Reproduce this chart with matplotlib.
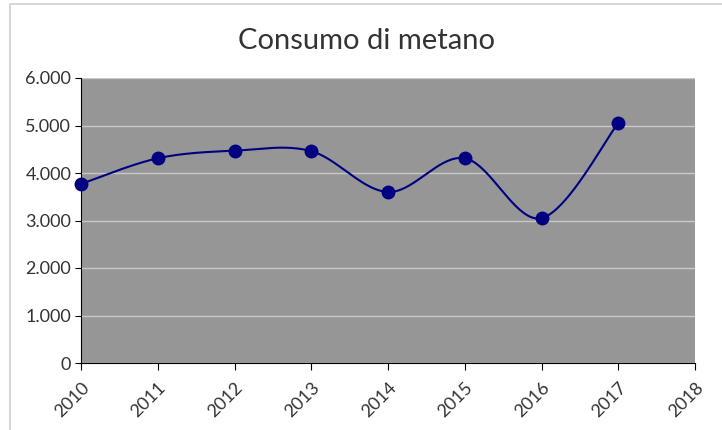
import matplotlib.pyplot as plt
from matplotlib.patches import Rectangle
import numpy as np

anni = [2010, 2011, 2012, 2013, 2014, 2015, 2016, 2017]
consumo = [3770, 4310, 4470, 4460, 3600, 4310, 3050, 5050]
tick_anni = list(range(2010, 2019))
tick_y = [0, 1000, 2000, 3000, 4000, 5000, 6000]


# curva smussata stile Excel (Bezier tipo Catmull-Rom)
def smooth(xs, ys, n=40):
    p = np.column_stack([xs, ys]).astype(float)
    out = [p[0]]
    for i in range(len(p) - 1):
        p0 = p[i - 1] if i > 0 else p[i]
        p1, p2 = p[i], p[i + 1]
        p3 = p[i + 2] if i + 2 < len(p) else p[i + 1]
        c1 = p1 + (p2 - p0) / 6
        c2 = p2 - (p3 - p1) / 6
        t = np.linspace(0, 1, n)[1:, None]
        seg = ((1 - t) ** 3) * p1 + 3 * ((1 - t) ** 2) * t * c1 + 3 * (1 - t) * t ** 2 * c2 + t ** 3 * p2
        out.extend(seg)
    out = np.array(out)
    return out[:, 0], out[:, 1]


def fmt(v):
    return f"{int(v):,}".replace(",", ".")


plt.rcParams['font.family'] = ['Lato', 'DejaVu Sans']

fig = plt.figure(figsize=(7.22, 4.30), dpi=100)
fig.patches.append(Rectangle((10 / 722, -0.1), 1.2, 1 - 4 / 430 + 0.1, transform=fig.transFigure,
                             fill=False, edgecolor="#d0d0d0", linewidth=1.2))
ax = fig.add_axes([81 / 722, 1 - 363 / 430, (695 - 81) / 722, (363 - 78) / 430])
ax.set_facecolor("#969696")

sx, sy = smooth(anni, consumo)
ax.plot(sx, sy, color="#000080", linewidth=1.5, zorder=3)
ax.plot(anni, consumo, "o", color="#000080", markersize=9, zorder=4, clip_on=False)

ax.set_xlim(2010, 2018)
ax.set_ylim(0, 6000)
ax.set_xticks(tick_anni)
ax.set_xticklabels([str(a) for a in tick_anni], rotation=45, ha="right", rotation_mode="anchor",
                   fontsize=13, color="#333333")
ax.set_yticks(tick_y)
ax.set_yticklabels([fmt(v) for v in tick_y], fontsize=13, color="#333333")
ax.grid(axis="y", color="#c8c8c8", linewidth=1)
ax.set_axisbelow(True)
for s in ["top", "right"]:
    ax.spines[s].set_visible(False)
ax.spines["left"].set_color("black")
ax.spines["bottom"].set_color("black")
ax.tick_params(axis="x", length=5, direction="out", pad=7)
ax.tick_params(axis="y", length=4, direction="out", pad=3)

fig.text(367 / 722, 1 - 41 / 430, "Consumo di metano", ha="center", va="center",
         fontsize=21, color="#333333")

fig.savefig("out.png", dpi=100)
